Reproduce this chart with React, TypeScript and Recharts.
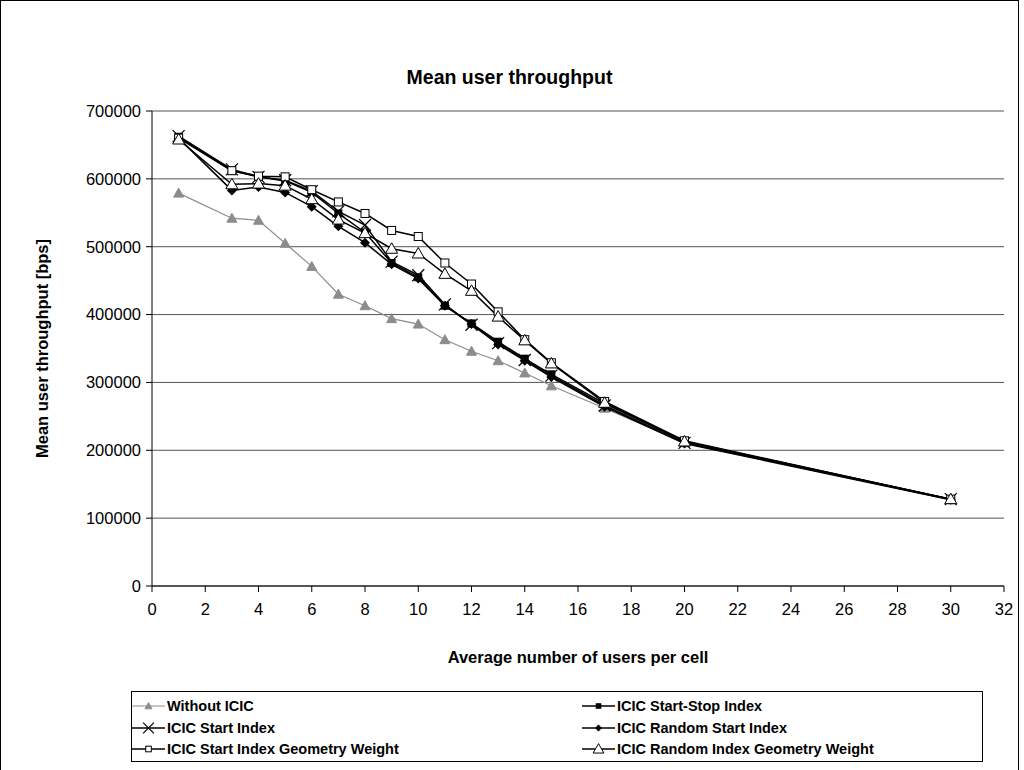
import React from "react";
import { LineChart, Line, XAxis, YAxis, CartesianGrid } from "recharts";

// average users per cell
const users = [1, 3, 4, 5, 6, 7, 8, 9, 10, 11, 12, 13, 14, 15, 17, 20, 30];

// mean user throughput [bps]
const withoutIcic = [579000, 542000, 539000, 505000, 471000, 430000, 413000, 394000, 386000, 363000, 346000, 332000, 314000, 295000, 262000, 211000, 127000];
const startStop = [662000, 612000, 603000, 597000, 580000, 549000, 521000, 476000, 455000, 413000, 387000, 360000, 335000, 312000, 269000, 213000, 128000];
const startIndex = [663000, 614000, 603000, 598000, 582000, 552000, 532000, 478000, 458000, 415000, 385000, 358000, 333000, 310000, 266000, 211000, 128000];
const randomStart = [660000, 583000, 588000, 580000, 559000, 530000, 506000, 474000, 453000, 413000, 386000, 356000, 332000, 308000, 264000, 210000, 127000];
const startIndexGeo = [660000, 612000, 604000, 603000, 584000, 566000, 549000, 524000, 515000, 476000, 445000, 404000, 363000, 329000, 272000, 214000, 128000];
const randomIndexGeo = [658000, 592000, 593000, 590000, 570000, 540000, 520000, 497000, 490000, 460000, 435000, 397000, 362000, 328000, 270000, 213000, 128000];

const xTicks = [0, 2, 4, 6, 8, 10, 12, 14, 16, 18, 20, 22, 24, 26, 28, 30, 32];
const yTicks = [0, 100000, 200000, 300000, 400000, 500000, 600000, 700000];

type Kind = "triGray" | "square" | "cross" | "diamond" | "openSquare" | "openTri";

const series: { key: string; name: string; values: number[]; color: string; width: number; kind: Kind }[] = [
  { key: "a", name: "Without ICIC", values: withoutIcic, color: "#8c8c8c", width: 1.2, kind: "triGray" },
  { key: "b", name: "ICIC Start-Stop Index", values: startStop, color: "#000", width: 1.5, kind: "square" },
  { key: "c", name: "ICIC Start Index", values: startIndex, color: "#000", width: 1.5, kind: "cross" },
  { key: "d", name: "ICIC Random Start Index", values: randomStart, color: "#000", width: 1.5, kind: "diamond" },
  { key: "e", name: "ICIC Start Index Geometry Weight", values: startIndexGeo, color: "#000", width: 1.5, kind: "openSquare" },
  { key: "f", name: "ICIC Random Index Geometry Weight", values: randomIndexGeo, color: "#000", width: 1.5, kind: "openTri" },
];

// legend order: left column then right column, row by row
const legendOrder = ["a", "b", "c", "d", "e", "f"];

const data = users.map((u, i) => {
  const row: Record<string, number> = { users: u };
  for (const s of series) row[s.key] = s.values[i];
  return row;
});

const FONT = "'Liberation Sans', Arial, sans-serif";

function Marker({ kind, cx, cy, k = 1 }: { kind: Kind; cx: number; cy: number; k?: number }) {
  switch (kind) {
    case "triGray":
      return <polygon points={`${cx},${cy - 5 * k} ${cx + 5 * k},${cy + 4 * k} ${cx - 5 * k},${cy + 4 * k}`} fill="#8c8c8c" stroke="#8c8c8c" />;
    case "square":
      return <rect x={cx - 4 * k} y={cy - 4 * k} width={8 * k} height={8 * k} fill="#000" />;
    case "cross":
      return (
        <g stroke="#000" strokeWidth={1.2}>
          <line x1={cx - 6 * k} y1={cy - 6 * k} x2={cx + 6 * k} y2={cy + 6 * k} />
          <line x1={cx - 6 * k} y1={cy + 6 * k} x2={cx + 6 * k} y2={cy - 6 * k} />
        </g>
      );
    case "diamond":
      return <polygon points={`${cx},${cy - 5 * k} ${cx + 5 * k},${cy} ${cx},${cy + 5 * k} ${cx - 5 * k},${cy}`} fill="#000" />;
    case "openSquare":
      return <rect x={cx - 4 * k} y={cy - 4 * k} width={8 * k} height={8 * k} fill="#fff" stroke="#000" strokeWidth={1} />;
    case "openTri":
      return <polygon points={`${cx},${cy - 6 * k} ${cx + 6 * k},${cy + 4.5 * k} ${cx - 6 * k},${cy + 4.5 * k}`} fill="#fff" stroke="#000" strokeWidth={1} />;
  }
}

const dotFor = (kind: Kind) => (props: any) => {
  const { cx, cy, index } = props;
  if (cx == null || cy == null) return <g key={index} />;
  return (
    <g key={index}>
      <Marker kind={kind} cx={cx} cy={cy} />
    </g>
  );
};

function LegendBox() {
  return (
    <div
      style={{
        position: "absolute",
        left: 131,
        top: 691,
        width: 852,
        height: 71,
        border: "1px solid #000",
        boxSizing: "border-box",
        background: "#fff",
        fontFamily: FONT,
        fontWeight: "bold",
        fontSize: 14.5,
      }}
    >
      {legendOrder.map((k, i) => {
        const s = series.find((x) => x.key === k)!;
        const col = i % 2;
        const row = Math.floor(i / 2);
        const left = col === 0 ? 0 : 450;
        const top = 4 + row * 21.5;
        return (
          <div key={k} style={{ position: "absolute", left, top, height: 20, display: "flex", alignItems: "center", whiteSpace: "nowrap" }}>
            <svg width={34} height={20} style={{ display: "block" }}>
              <line x1={0} y1={10} x2={33} y2={10} stroke={s.color} strokeWidth={s.width} />
              <Marker kind={s.kind} cx={16.5} cy={10} k={s.kind === "cross" || s.kind === "openTri" ? 0.9 : 0.7} />
            </svg>
            <span style={{ marginLeft: 1 }}>{s.name}</span>
          </div>
        );
      })}
    </div>
  );
}

export default function App() {
  return (
    <div style={{ position: "absolute", left: 0, top: 0, width: 1024, height: 770, overflow: "hidden", background: "#fff" }}>
      <div
        style={{
          position: "absolute",
          left: 0,
          top: 0,
          width: 1019,
          height: 800,
          border: "1px solid #000",
          boxSizing: "border-box",
        }}
      />
      <div
        style={{
          position: "absolute",
          left: 0,
          width: 1019,
          top: 66,
          textAlign: "center",
          fontFamily: FONT,
          fontWeight: "bold",
          fontSize: 19.5,
        }}
      >
        Mean user throughput
      </div>
      <div style={{ position: "absolute", left: 0, top: 0 }}>
        <LineChart
          width={1024}
          height={770}
          data={data}
          margin={{ top: 111, right: 20, bottom: 154, left: 92 }}
        >
          <CartesianGrid horizontal vertical={false} stroke="#555" strokeWidth={1} />
          <XAxis
            dataKey="users"
            type="number"
            domain={[0, 32]}
            ticks={xTicks}
            interval={0}
            height={30}
            stroke="#000"
            tick={{ fill: "#000", fontSize: 16.5, fontFamily: FONT }}
            tickSize={6}
            tickMargin={11}
            label={{ value: "Average number of users per cell", position: "insideBottom", offset: -47, fill: "#000", fontSize: 16.5, fontWeight: "bold", fontFamily: FONT }}
          />
          <YAxis
            type="number"
            domain={[0, 700000]}
            ticks={yTicks}
            interval={0}
            width={60}
            stroke="#000"
            tick={{ fill: "#000", fontSize: 16.5, fontFamily: FONT }}
            tickSize={6}
            tickMargin={5}
            label={{ value: "Mean user throughput [bps]", angle: -90, position: "center", dx: -80, fill: "#000", fontSize: 16.5, fontWeight: "bold", fontFamily: FONT }}
          />
          {series.map((s) => (
            <Line
              key={s.key}
              dataKey={s.key}
              name={s.name}
              type="linear"
              stroke={s.color}
              strokeWidth={s.width}
              dot={dotFor(s.kind)}
              activeDot={false}
              isAnimationActive={false}
            />
          ))}
        </LineChart>
      </div>
      <LegendBox />
    </div>
  );
}
